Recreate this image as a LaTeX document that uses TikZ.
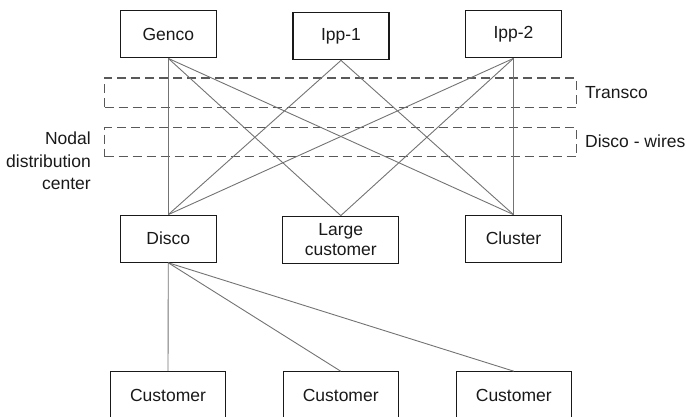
\documentclass[tikz,border=0pt]{standalone}
\usepackage{fontspec}
\setmainfont{Liberation Sans}
\begin{document}
\begin{tikzpicture}[x=1pt,y=-1pt,
  every node/.style={font=\fontsize{17.5}{22.5}\selectfont, text=black!90},
  box/.style={draw=black!90, line width=1.2pt, minimum width=96pt, minimum height=47pt, inner sep=0pt, align=center},
  wbox/.style={box, minimum width=115pt},
  zone/.style={draw=black!65, line width=1.2pt, dash pattern=on 9pt off 5pt, minimum width=472pt, inner sep=0pt},
  link/.style={draw=black!55, line width=0.9pt},
  lbl/.style={inner sep=0pt}]
\clip (0,0) rectangle (686,417);
\node[box] (genco) at (168.3,34.3) {Genco};
\node[box] (ipp1) at (341,36.3) {Ipp-1};
\node[box] (ipp2) at (513.5,34.3) {Ipp-2};
\node[zone, minimum height=29.7pt] (transco) at (340.5,92.8) {};
\node[zone, minimum height=29pt] (wires) at (340.5,142.2) {};
\node[lbl, anchor=west] (tl) at (585,92.5) {Transco};
\node[lbl, anchor=west] (wl) at (585,141) {Disco - wires};
\node[lbl, anchor=east, align=right] (nl) at (91,161) {Nodal\\distribution\\center};
\node[box] (disco) at (168.3,238.7) {Disco};
\node[box, minimum width=116pt] (large) at (340.8,239.7) {Large\\[-3pt]customer};
\node[box] (cluster) at (513.5,238.7) {Cluster};
\node[wbox] (c1) at (168,395.3) {Customer};
\node[wbox] (c2) at (340.7,395.3) {Customer};
\node[wbox] (c3) at (513.8,395.3) {Customer};
\draw[link] (genco.south) -- (disco.north);
\draw[link] (genco.south) -- (large.north);
\draw[link] (genco.south) -- (cluster.north);
\draw[link] (ipp1.south) -- (disco.north);
\draw[link] (ipp1.south) -- (cluster.north);
\draw[link] (ipp2.south) -- (disco.north);
\draw[link] (ipp2.south) -- (large.north);
\draw[link] (ipp2.south) -- (cluster.north);
\draw[link] (disco.south) -- (c1.north);
\draw[link] (disco.south) -- (c2.north);
\draw[link] (disco.south) -- (c3.north);
\end{tikzpicture}
\end{document}
